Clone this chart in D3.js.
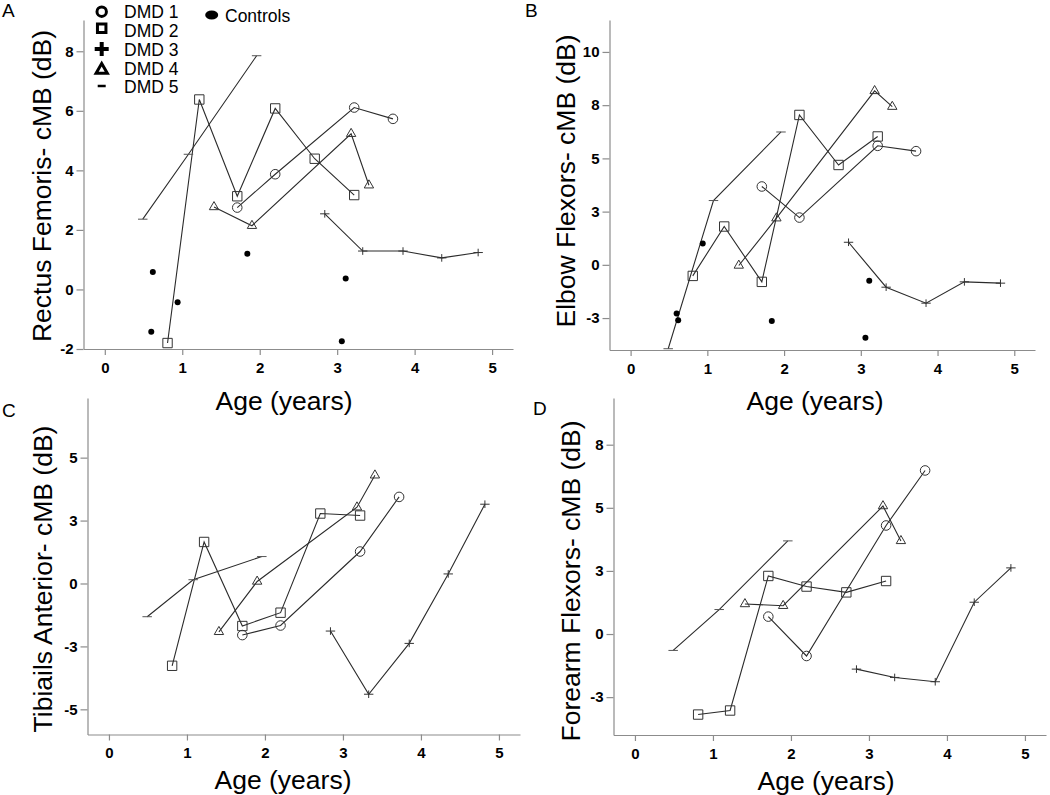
<!DOCTYPE html>
<html>
<head>
<meta charset="utf-8">
<script src="https://d3js.org/d3.v7.min.js"></script>
<style>
  body { margin: 0; background: #fff; }
  svg { display: block; font-family: "Liberation Sans", Arial, sans-serif; }
  .axis .domain, .axis line { stroke: #8c8c8c; stroke-width: 1.2; }
  .axis text { fill: #000; font-size: 15px; font-weight: bold; font-family: "Liberation Sans", Arial, sans-serif; }
</style>
</head>
<body>
<svg id="chart" width="1050" height="795"></svg>
<script>
// ages (years) at each visit, per subject
const subjects = ['DMD 1', 'DMD 2', 'DMD 3', 'DMD 4', 'DMD 5'];
const ageDMD1 = [1.71, 2.20, 3.22, 3.72];
const ageDMD2 = [0.81, 1.22, 1.71, 2.20, 2.71, 3.22];
const ageDMD3 = [2.84, 3.33, 3.85, 4.35, 4.82];
const ageDMD4 = [1.41, 1.90, 3.18, 3.41];
const ageDMD5 = [0.49, 1.08, 1.96];
const controlAges = [0.60, 0.62, 0.94, 1.84, 3.06, 3.11];

// cMB (dB) per muscle, one array per subject
const rectusFemoris = [
  [2.75, 3.87, 6.11, 5.73],
  [-1.80, 6.38, 3.13, 6.08, 4.39, 3.17],
  [2.54, 1.29, 1.29, 1.06, 1.24],
  [2.77, 2.14, 5.23, 3.50],
  [2.36, 4.54, 7.85]
];
const rectusControls = [-1.42, 0.59, -0.43, 1.20, -1.74, 0.37];

const elbowFlexors = [
  [3.68, 2.22, 5.59, 5.34],
  [-0.52, 1.80, -0.80, 7.04, 4.69, 6.03],
  [1.06, -1.05, -1.80, -0.80, -0.86],
  [-0.03, 2.19, 8.17, 7.43],
  [-3.94, 3.02, 6.24]
];
const elbowControls = [-2.28, -2.60, 1.00, -2.64, -3.43, -0.75];

const tibialisAnterior = [
  [-2.05, -1.67, 1.27, 3.44],
  [-3.27, 1.65, -1.69, -1.16, 2.78, 2.70],
  [-1.89, -4.40, -2.38, 0.38, 3.15],
  [-1.92, 0.08, 3.03, 4.30],
  [-1.32, 0.15, 1.07]
];

const forearmFlexors = [
  [0.69, -0.87, 4.30, 6.48],
  [-3.19, -3.03, 2.30, 1.88, 1.65, 2.10],
  [-1.39, -1.72, -1.89, 1.26, 2.62],
  [1.19, 1.12, 5.07, 3.69],
  [-0.65, 0.97, 3.69]
];

const ageTicks = [0, 1, 2, 3, 4, 5];
const rectusTicks = [-2, 0, 2, 4, 6, 8];
const elbowTicks = [-2.5, 0, 2.5, 5, 7.5, 10];
const tibialisTicks = [-5, -2.5, 0, 2.5, 5];
const forearmTicks = [-2.5, 0, 2.5, 5, 7.5];

const ages = [ageDMD1, ageDMD2, ageDMD3, ageDMD4, ageDMD5];

// thin plus and dash shapes for DMD 3 / DMD 5
const symbolPlus = {
  draw(ctx, size) {
    const w = 4.7, h = 3.8;
    ctx.moveTo(-w, 0); ctx.lineTo(w, 0);
    ctx.moveTo(0, -h); ctx.lineTo(0, h);
  }
};
const symbolDash = {
  draw(ctx, size) {
    const w = Math.sqrt(size) / 2;
    ctx.moveTo(-w, 0); ctx.lineTo(w, 0);
  }
};
const markerTypes = [d3.symbolCircle, d3.symbolSquare, symbolPlus, d3.symbolTriangle, symbolDash];
const markerSizes = [72, 88, 80, 38, 90];

const panels = [
  { letter: 'A', lx: 2, ly: 17, title: 'Rectus Femoris- cMB (dB)', values: rectusFemoris,
    controls: rectusControls, ticks: rectusTicks, yDomain: [-2, 9.05],
    box: { left: 83.5, right: 513, top: 20, bottom: 349 },
    yt: [51, 186], xt: [284, 410] },
  { letter: 'B', lx: 525, ly: 17, title: 'Elbow Flexors- cMB (dB)', values: elbowFlexors,
    controls: elbowControls, ticks: elbowTicks, yDomain: [-4, 11.5],
    box: { left: 609.5, right: 1035, top: 20, bottom: 350 },
    yt: [575, 181], xt: [815, 410] },
  { letter: 'C', lx: 2, ly: 417, title: 'Tibiails Anterior- cMB (dB)', values: tibialisAnterior,
    controls: null, ticks: tibialisTicks, yDomain: [-6, 7.37],
    box: { left: 87.5, right: 520, top: 398, bottom: 734.5 },
    yt: [52, 579], xt: [283, 789] },
  { letter: 'D', lx: 533, ly: 415, title: 'Forearm Flexors- cMB (dB)', values: forearmFlexors,
    controls: null, ticks: forearmTicks, yDomain: [-4, 9.35],
    box: { left: 613.5, right: 1046, top: 398, bottom: 735 },
    yt: [580, 581], xt: [826, 790] }
];

const svg = d3.select('#chart');
const fmt = d => (d < 0 ? '-' : '') + Math.round(Math.abs(d));

panels.forEach(p => {
  const x = d3.scaleLinear().domain([-0.275, 5.27]).range([p.box.left, p.box.right]);
  const y = d3.scaleLinear().domain(p.yDomain).range([p.box.bottom, p.box.top]);
  const g = svg.append('g');

  g.append('g')
    .attr('class', 'axis')
    .attr('transform', `translate(0,${p.box.bottom})`)
    .call(d3.axisBottom(x).tickValues(ageTicks).tickFormat(fmt).tickSize(6).tickPadding(7).tickSizeOuter(0));

  g.append('g')
    .attr('class', 'axis')
    .attr('transform', `translate(${p.box.left},0)`)
    .call(d3.axisLeft(y).tickValues(p.ticks).tickFormat(fmt).tickSize(7).tickPadding(3).tickSizeOuter(0));

  g.append('text')
    .attr('x', p.lx).attr('y', p.ly)
    .style('font-size', '19px')
    .text(p.letter);

  g.append('text')
    .attr('transform', `translate(${p.yt[0]},${p.yt[1]}) rotate(-90)`)
    .attr('text-anchor', 'middle')
    .style('font-size', '26.5px')
    .text(p.title);

  g.append('text')
    .attr('x', p.xt[0]).attr('y', p.xt[1])
    .attr('text-anchor', 'middle')
    .style('font-size', '26.5px')
    .text('Age (years)');

  const line = d3.line().x(d => x(d[0])).y(d => y(d[1]));

  p.values.forEach((vals, i) => {
    const pts = vals.map((v, j) => [ages[i][j], v]);
    g.append('path')
      .datum(pts)
      .attr('d', line)
      .attr('fill', 'none')
      .attr('stroke', '#2b2b2b')
      .attr('stroke-width', 1.1);

    g.selectAll(null)
      .data(pts)
      .join('path')
      .attr('transform', d => `translate(${x(d[0])},${y(d[1])})`)
      .attr('d', d3.symbol().type(markerTypes[i]).size(markerSizes[i]))
      .attr('fill', 'none')
      .attr('stroke', i === 4 ? '#555' : '#333')
      .attr('stroke-width', 1);
  });

  if (p.controls) {
    g.selectAll(null)
      .data(p.controls)
      .join('circle')
      .attr('cx', (d, j) => x(controlAges[j]))
      .attr('cy', d => y(d))
      .attr('r', 3)
      .attr('fill', '#000');
  }
});

// legend (panel A only)
const legend = svg.append('g');
const legendMarkers = [
  d3.symbol().type(d3.symbolCircle).size(70),
  d3.symbol().type(d3.symbolSquare).size(72),
  d3.symbol().type({ draw(ctx) { ctx.moveTo(-7, 0); ctx.lineTo(7, 0); ctx.moveTo(0, -7); ctx.lineTo(0, 7); } }),
  d3.symbol().type(d3.symbolTriangle).size(55),
  d3.symbol().type({ draw(ctx) { ctx.moveTo(-4, 0); ctx.lineTo(4, 0); } })
];
const legendMarkerY = [11.7, 28.3, 49, 70, 86];
const legendStroke = [3, 3, 4, 3, 2.5];

subjects.forEach((s, i) => {
  legend.append('path')
    .attr('transform', `translate(101.7,${legendMarkerY[i]})`)
    .attr('d', legendMarkers[i])
    .attr('fill', 'none')
    .attr('stroke', '#000')
    .attr('stroke-width', legendStroke[i]);
  legend.append('text')
    .attr('x', 124)
    .attr('y', 18.3 + i * 18.75)
    .style('font-size', '17.5px')
    .text(s);
});

legend.append('ellipse')
  .attr('cx', 211.7).attr('cy', 15)
  .attr('rx', 6.5).attr('ry', 4.5)
  .attr('fill', '#000');
legend.append('text')
  .attr('x', 225).attr('y', 21.5)
  .style('font-size', '17.5px')
  .text('Controls');
</script>
</body>
</html>
